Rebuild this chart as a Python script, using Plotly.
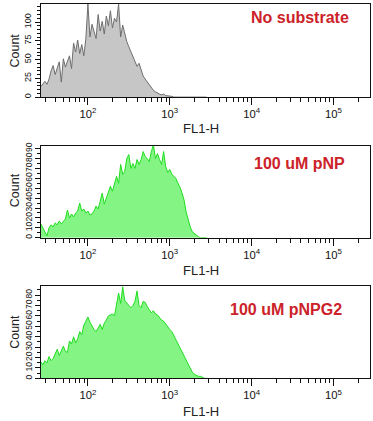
import plotly.graph_objects as go

# FL1-H channel values (bin centres, log spaced)
fl1_h = [26.6, 28.18, 29.85, 31.62, 33.50, 35.48, 37.58, 39.81, 42.17, 44.67,
         47.32, 50.12, 53.09, 56.23, 59.57, 63.10, 66.83, 70.79, 74.99, 79.43,
         84.14, 89.13, 94.41, 100, 105.9, 112.2, 118.9, 125.9, 133.4, 141.3,
         149.6, 158.5, 167.9, 177.8, 188.4, 199.5, 211.3, 223.9, 237.1, 251.2,
         266.1, 281.8, 298.5, 316.2, 335.0, 354.8, 375.8, 398.1, 421.7, 446.7,
         473.2, 501.2, 530.9, 562.3, 595.7, 631.0, 668.3, 707.9, 749.9, 794.3,
         841.4, 891.3, 944.1, 1000, 1059, 1122, 1189, 1259, 1334, 1413,
         1496, 1585, 1679, 1778, 1884, 1995, 2113, 2239, 2371, 2512,
         2661, 2818]

count_no_substrate = [14, 18, 21, 17, 24, 35, 42, 30, 38, 47,
                      20, 51, 40, 48, 55, 38, 72, 60, 76, 58,
                      70, 55, 78, 124, 80, 97, 88, 78, 110, 88,
                      101, 84, 108, 95, 115, 92, 105, 100, 124, 80,
                      96, 84, 74, 67, 60, 55, 47, 41, 45, 35,
                      28, 24, 20, 16, 13, 9, 7, 5, 4, 3,
                      4, 2, 2, 1, 1, 0, 0, 0, 0, 0,
                      0, 0, 0, 0, 0, 0, 0, 0, 0, 0,
                      0, 0]

count_pnp = [14, 10, 6, 2, 10, 13, 11, 15, 13, 17,
             14, 16, 19, 28, 20, 24, 21, 25, 27, 35,
             27, 29, 25, 27, 23, 24, 27, 32, 29, 37,
             45, 34, 40, 46, 52, 47, 55, 62, 55, 74,
             64, 67, 80, 84, 70, 75, 70, 79, 74, 79,
             87, 82, 80, 77, 87, 94, 80, 85, 79, 74,
             87, 72, 66, 69, 64, 62, 60, 55, 51, 45,
             38, 26, 18, 11, 6, 4, 3, 1, 0, 0,
             0, 0]

count_pnpg2 = [16, 13, 17, 15, 21, 17, 19, 24, 28, 22,
               27, 31, 26, 25, 36, 33, 40, 34, 38, 45,
               42, 51, 55, 59, 54, 50, 47, 45, 49, 52,
               47, 53, 56, 60, 61, 62, 60, 73, 82, 72,
               88, 75, 72, 70, 68, 70, 74, 84, 70, 68,
               74, 73, 69, 66, 63, 65, 62, 61, 58, 56,
               55, 52, 50, 47, 45, 41, 38, 34, 30, 26,
               22, 17, 13, 10, 6, 4, 3, 2, 2, 1,
               0, 0]

panel_labels = ["No substrate", "100 uM pNP", "100 uM pNPG2"]
y_ranges = [124, 93, 88.5]
y_dticks = [25, 10, 10]

W, H = 373, 421
# pixel geometry of each panel: (top, bottom)
panels_px = [(1, 95), (144, 237), (286, 379)]
x_left, x_right = 41, 369.5

series = [count_no_substrate, count_pnp, count_pnpg2]
fills = ["#c6c6c6", "#84f584", "#84f584"]
lines = ["#6e6e6e", "#1fdc1f", "#1fdc1f"]

fig = go.Figure()
layout = dict(width=W, height=H, margin=dict(l=0, r=0, t=0, b=0),
              paper_bgcolor="white", plot_bgcolor="white", showlegend=False)

tick_font = dict(family="Liberation Sans, Arial", size=9, color="#111")
annotations = []
for i in range(3):
    sfx = "" if i == 0 else str(i + 1)
    top, bot = panels_px[i]
    fig.add_trace(go.Scatter(
        x=fl1_h, y=series[i], mode="lines", fill="tozeroy",
        fillcolor=fills[i], line=dict(color=lines[i], width=1),
        xaxis="x" + sfx, yaxis="y" + sfx, hoverinfo="skip"))
    layout["xaxis" + sfx] = dict(
        type="log", range=[1.427, 5.44], domain=[x_left / W, x_right / W],
        anchor="y" + sfx, showgrid=False, zeroline=False,
        showline=True, linecolor="#111", linewidth=1, mirror=True,
        ticks="outside", ticklen=7, tickwidth=1, tickcolor="#111",
        dtick=1, exponentformat="power", tickfont=tick_font,
        minor=dict(ticks="outside", ticklen=4, tickwidth=1, tickcolor="#111",
                   dtick="D1", showgrid=False))
    layout["yaxis" + sfx] = dict(
        range=[0, y_ranges[i]], domain=[1 - bot / H, 1 - top / H],
        anchor="x" + sfx, showgrid=False, zeroline=False,
        showline=True, linecolor="#111", linewidth=1, mirror=True,
        ticks="outside", ticklen=5, tickwidth=1, tickcolor="#111",
        dtick=y_dticks[i], tick0=0, tickangle=-90,
        tickfont=dict(family="Liberation Sans, Arial", size=9 if i == 0 else 8.5, color="#111"),
        minor=dict(ticks="outside", ticklen=3, tickwidth=1, tickcolor="#111",
                   dtick=5, showgrid=False))

# axis titles and panel labels
fl1_y = [127, 270, 412]
count_y = [48, 189, 332]
label_pos = [(300, 15), (299.5, 162), (286, 309)]
for i in range(3):
    annotations.append(dict(text="FL1-H", x=201 / W, y=1 - fl1_y[i] / H,
                            xref="paper", yref="paper", showarrow=False,
                            font=dict(family="Liberation Sans, Arial", size=13, color="#222"),
                            xanchor="center", yanchor="middle"))
    annotations.append(dict(text="Count", x=15 / W, y=1 - count_y[i] / H,
                            xref="paper", yref="paper", showarrow=False, textangle=-90,
                            font=dict(family="Liberation Sans, Arial", size=12.5, color="#222"),
                            xanchor="center", yanchor="middle"))
    lx, ly = label_pos[i]
    annotations.append(dict(text="<b>" + panel_labels[i] + "</b>", x=lx / W, y=1 - ly / H,
                            xref="paper", yref="paper", showarrow=False,
                            font=dict(family="Liberation Sans, Arial", size=16, color="#cc2229"),
                            xanchor="center", yanchor="middle"))
layout["annotations"] = annotations
fig.update_layout(**layout)
fig.write_html("out.html", config={"displayModeBar": False, "staticPlot": True},
               post_script="document.body.style.margin='0px';document.body.style.overflow='hidden';")
